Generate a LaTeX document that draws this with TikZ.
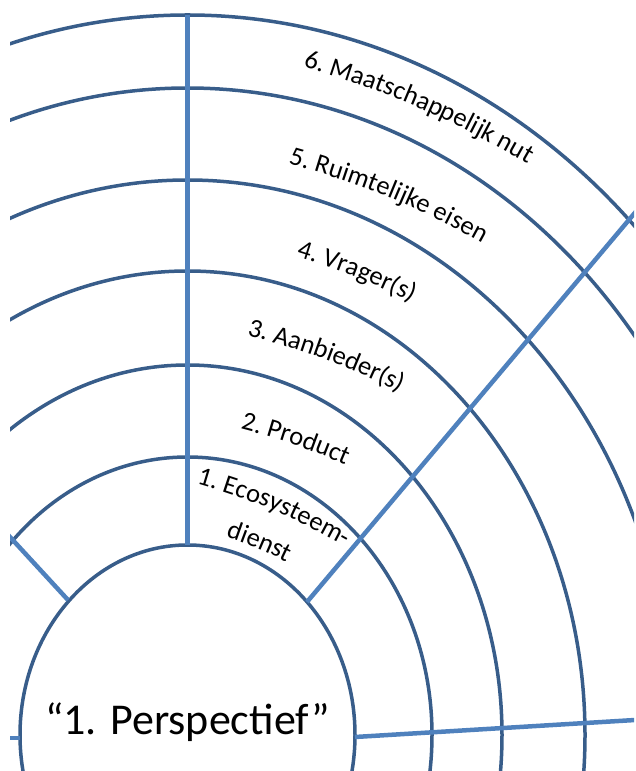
\documentclass[tikz,border=0pt]{standalone}
\usepackage{fontspec}
\setmainfont{Carlito}
\usetikzlibrary{calc,decorations.text}
\definecolor{ringblue}{HTML}{385D8A}
\definecolor{spokeblue}{HTML}{4F81BD}
\newcommand{\lblfont}{\fontsize{26.5}{31}\selectfont}

\begin{document}
\begin{tikzpicture}[x=1pt,y=1pt,
  ring/.style={draw=ringblue, line width=3.5pt},
  spoke/.style={draw=spokeblue, line width=4.5pt},
  lbl/.style={decorate, decoration={text along path, text align=center}}]
\useasboundingbox (0,0) rectangle (635,771);
\coordinate (C) at (187.5,36);
\begin{scope}
\clip (10,0) rectangle (634,771);
% Rings
\foreach \ra/\rb in {167.5/190, 244.5/278, 314.5/370, 397.5/464, 485/555, 568/647, 632/720}
  \draw[ring] (C) ellipse[x radius=\ra, y radius=\rb];
% Spokes
\coordinate (vtop) at ($(C)+(0,720)$);
\coordinate (vbot) at ($(C)+(0,190)$);
\coordinate (dgin) at (307,169);
\coordinate (dgout) at (660,588);
\coordinate (hzin) at (355,34);
\coordinate (hzout) at (640,51.3);
\coordinate (lfin) at (68,171);
\coordinate (lfout) at (5,239.4);
\coordinate (stin) at (20,33);
\coordinate (stout) at (5,33);
\draw[spoke] (vbot) -- (vtop);
\draw[spoke] (dgin) -- (dgout);
\draw[spoke] (hzin) -- (hzout);
\draw[spoke] (lfin) -- (lfout);
\draw[spoke] (stin) -- (stout);
\end{scope}
% Labels
\coordinate (s6) at (299,704); \coordinate (e6) at (530,604);
\coordinate (s5) at (287,606); \coordinate (e5) at (482,526);
\coordinate (s4) at (297,513); \coordinate (e4) at (410,468);
\coordinate (s3) at (248,434); \coordinate (e3) at (398,378);
\coordinate (s2) at (240,341); \coordinate (e2) at (345,305);
\coordinate (s1) at (195,286); \coordinate (e1) at (345,223);
\coordinate (s0) at (227,233); \coordinate (e0) at (285,209);
\path[lbl, decoration={text={|\lblfont|6. Maatschappelijk nut}}]
  ($(s6)!-15pt!(e6)$) to[bend left=7] ($(e6)!-15pt!(s6)$);
\path[lbl, decoration={text={|\lblfont|5. Ruimtelijke eisen}}]
  ($(s5)!-15pt!(e5)$) to[bend left=7] ($(e5)!-15pt!(s5)$);
\path[lbl, decoration={text={|\lblfont|4. Vrager(s)}}]
  ($(s4)!-15pt!(e4)$) to[bend left=5] ($(e4)!-15pt!(s4)$);
\path[lbl, decoration={text={|\lblfont|3. Aanbieder(s)}}]
  ($(s3)!-15pt!(e3)$) to[bend left=6] ($(e3)!-15pt!(s3)$);
\path[lbl, decoration={text={|\lblfont|2. Product}}]
  ($(s2)!-15pt!(e2)$) to[bend left=5] ($(e2)!-15pt!(s2)$);
\path[lbl, decoration={text={|\lblfont|1. Ecosysteem-}}]
  ($(s1)!-15pt!(e1)$) to[bend left=7] ($(e1)!-15pt!(s1)$);
\path[lbl, decoration={text={|\lblfont|dienst}}]
  ($(s0)!-15pt!(e0)$) to[bend left=4] ($(e0)!-15pt!(s0)$);
\node[font=\fontsize{44}{52}\selectfont, anchor=base] (persp) at (C) {“1. Perspectief”};
\end{tikzpicture}
\end{document}
